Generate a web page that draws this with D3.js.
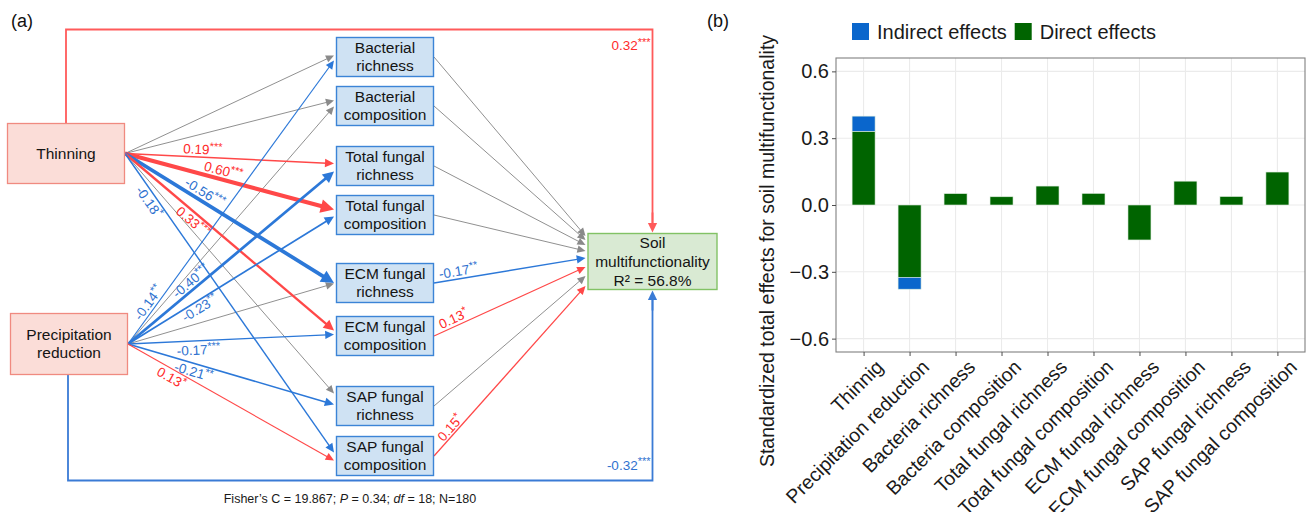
<!DOCTYPE html>
<html>
<head>
<meta charset="utf-8">
<script src="https://cdn.jsdelivr.net/npm/d3@7"></script>
<style>
  body { margin: 0; background: #fff; }
  svg { display: block; font-family: "Liberation Sans", Arial, Helvetica, sans-serif; }
</style>
</head>
<body>
<svg id="fig" width="1313" height="512"></svg>
<script>
// ---------- (a) piecewise SEM ----------
const driverNames = ["Thinning", "Precipitation\nreduction"];
const mediatorNames = [
  "Bacterial\nrichness", "Bacterial\ncomposition",
  "Total fungal\nrichness", "Total fungal\ncomposition",
  "ECM fungal\nrichness", "ECM fungal\ncomposition",
  "SAP fungal\nrichness", "SAP fungal\ncomposition"
];
const responseName = "Soil\nmultifunctionality";
const responseR2 = 56.8;
// standardized path coefficients (null = non-significant path)
const thinningToMediator = [null, null, 0.19, 0.60, -0.56, 0.33, null, -0.18];
const thinningSig        = ["", "", "***", "***", "***", "***", "", "*"];
const precipToMediator   = [-0.14, null, -0.40, -0.23, null, -0.17, -0.21, 0.13];
const precipSig          = ["**", "", "***", "**", "", "***", "**", "*"];
const mediatorToSoil     = [null, null, null, null, -0.17, 0.13, null, 0.15];
const mediatorSig        = ["", "", "", "", "**", "*", "", "*"];
const driverToSoil       = [0.32, -0.32];
const driverToSoilSig    = ["***", "***"];
const fisherC = 19.867, fisherP = 0.34, fisherDf = 18, sampleN = 180;

// ---------- (b) total effects ----------
const effectCategories = [
  "Thinnig", "Precipitation reduction", "Bacteria richness", "Bacteria composition",
  "Total fungal richness", "Total fungal composition", "ECM fungal richness",
  "ECM fungal composition", "SAP fungal richness", "SAP fungal composition"
];
const directEffects   = [0.331, -0.325, 0.051, 0.037, 0.085, 0.052, -0.157, 0.107, 0.038, 0.148];
const indirectEffects = [0.068, -0.053, 0, 0, 0, 0, 0, 0, 0, 0];
const effectTicks = [-0.6, -0.3, 0, 0.3, 0.6];
const legendLabels = ["Indirect effects", "Direct effects"];

// ---------- styling / layout ----------
const RED = "#ff4848", RED_TXT = "#ff2b2b";
const BLUE = "#2c78d8", BLUE_TXT = "#2f72cf";
const GRAY = "#8a8a8a";
const layout = {
  drivers: [{x: 7.5, y: 123.5, w: 117, h: 60}, {x: 10.5, y: 313.5, w: 117, h: 61}],
  medX: 336.5, medW: 97, medH: 39,
  medTop: [37.5, 86.5, 146.5, 195.5, 263.5, 316.5, 386.5, 436.5],
  soil: {x: 588, y: 233.5, w: 129, h: 56},
  thinDy:   [-1.5, -5.5, -2.5, -5.5, 0, -5.5, -12.5, -3.5],
  precipDy: [3.5, 0.5, 5.5, 1.5, 0.5, -1.5, -1.5, 4.5],
  soilInY:  [236, 240, 245, 251, 258, 267, 276, 286],
  thinLab:   [null, null, [0.37, 8], [0.46, 9], [0.36, 9], [0.35, -8], null, [0.146, -8]],
  precipLab: [[0.13, 8], null, [0.33, 8], [0.33, -7], null, [0.34, -9], [0.33, -8], [0.23, -8]],
  medLab:    [null, null, null, null, [0.17, 8], [0.15, 8], null, [0.14, 7]],
  loopTop: 29.5, loopBottom: 480.5
};

const svg = d3.select("#fig");
const widthScale = d3.scaleLinear().domain([0.13, 0.60]).range([1.1, 4]);

function arrow(g, x1, y1, x2, y2, color, sw) {
  const dx = x2 - x1, dy = y2 - y1, len = Math.hypot(dx, dy);
  const ux = dx / len, uy = dy / len;
  const hl = 6.5 + 1.7 * sw, hw = 2.8 + 1.0 * sw;
  g.append("line")
    .attr("x1", x1).attr("y1", y1)
    .attr("x2", x2 - ux * hl * 0.8).attr("y2", y2 - uy * hl * 0.8)
    .attr("stroke", color).attr("stroke-width", sw);
  const bx = x2 - ux * hl, by = y2 - uy * hl;
  g.append("polygon")
    .attr("points", [[x2, y2], [bx - uy * hw, by + ux * hw], [bx + uy * hw, by - ux * hw]].map(p => p.join(",")).join(" "))
    .attr("fill", color);
}

function coefLabel(g, x, y, angle, coef, sig, color, anchor) {
  const t = g.append("text")
    .attr("transform", `translate(${x},${y}) rotate(${angle})`)
    .attr("text-anchor", anchor || "middle")
    .attr("fill", color)
    .style("font-size", "13.5px");
  t.append("tspan").attr("dy", anchor ? 0 : "0.36em").text(coef.toFixed(2));
  t.append("tspan").attr("dy", "-0.4em").style("font-size", "11px").text(sig);
}

function labelOnEdge(g, x1, y1, x2, y2, place, coef, sig, color) {
  const dx = x2 - x1, dy = y2 - y1;
  const a = Math.atan2(dy, dx);
  const px = x1 + dx * place[0] + Math.sin(a) * place[1];
  const py = y1 + dy * place[0] - Math.cos(a) * place[1];
  coefLabel(g, px, py, a * 180 / Math.PI, coef, sig, color);
}

function boxText(g, cx, cy, text, size, lh) {
  const lines = text.split("\n");
  const t = g.append("text").attr("text-anchor", "middle").attr("fill", "#141414").style("font-size", size + "px");
  lines.forEach((s, i) => {
    t.append("tspan").attr("x", cx).attr("y", cy + (i - (lines.length - 1) / 2) * lh).attr("dy", "0.35em").text(s);
  });
  return t;
}

const gA = svg.append("g");
gA.append("text").attr("x", 11).attr("y", 27).style("font-size", "18px").attr("fill", "#111").text("(a)");

const edgesG = gA.append("g");
const labelsG = gA.append("g");
const nodesG = gA.append("g");

const drvOut = layout.drivers.map(d => [d.x + d.w + 0.5, d.y + d.h / 2]);
const medCY = layout.medTop.map(t => t + layout.medH / 2);
const tipX = layout.medX - 2.5;
const soilTipX = layout.soil.x - 2.5;

// build list of edges; non-significant ones drawn first (beneath)
const edges = [];
[[thinningToMediator, thinningSig, layout.thinDy, layout.thinLab, 0],
 [precipToMediator, precipSig, layout.precipDy, layout.precipLab, 1]].forEach(([coefs, sigs, dys, labs, di]) => {
  coefs.forEach((c, i) => {
    edges.push({x1: drvOut[di][0], y1: drvOut[di][1], x2: tipX, y2: medCY[i] + dys[i], coef: c, sig: sigs[i], lab: labs[i]});
  });
});
mediatorToSoil.forEach((c, i) => {
  edges.push({x1: layout.medX + layout.medW + 0.5, y1: medCY[i], x2: soilTipX, y2: layout.soilInY[i], coef: c, sig: mediatorSig[i], lab: layout.medLab[i]});
});
edges.sort((a, b) => (a.coef === null ? 0 : 1) - (b.coef === null ? 0 : 1));
edges.forEach(e => {
  if (e.coef === null) {
    arrow(edgesG, e.x1, e.y1, e.x2, e.y2, GRAY, 0.95);
  } else {
    const col = e.coef > 0 ? RED : BLUE;
    arrow(edgesG, e.x1, e.y1, e.x2, e.y2, col, widthScale(Math.abs(e.coef)));
    labelOnEdge(labelsG, e.x1, e.y1, e.x2, e.y2, e.lab, e.coef, e.sig, e.coef > 0 ? RED_TXT : BLUE_TXT);
  }
});

// direct driver -> soil multifunctionality paths routed around the diagram
const soilCX = layout.soil.x + layout.soil.w / 2;
const topD = layout.drivers[0], botD = layout.drivers[1];
function loop(g, x0, y0, yRoute, yEnd, color, sw) {
  const dir = Math.sign(yEnd - yRoute);
  const hl = 6.5 + 1.7 * sw;
  g.append("path")
    .attr("d", `M${x0},${y0} V${yRoute} H${soilCX} V${yEnd - dir * hl * 0.8}`)
    .attr("fill", "none").attr("stroke", color).attr("stroke-width", sw);
  arrow(g, soilCX, yEnd - dir * 20, soilCX, yEnd, color, sw);
}
loop(edgesG, 66, topD.y, layout.loopTop, layout.soil.y - 1, "#ff5a5a", 1.8);
loop(edgesG, 68, botD.y + botD.h, layout.loopBottom, layout.soil.y + layout.soil.h + 1, "#3a7bd5", 1.8);
coefLabel(labelsG, soilCX - 2, 50, 0, driverToSoil[0], driverToSoilSig[0], RED_TXT, "end");
coefLabel(labelsG, soilCX - 2, 469.5, 0, driverToSoil[1], driverToSoilSig[1], BLUE_TXT, "end");

// nodes
layout.drivers.forEach((d, i) => {
  nodesG.append("rect").attr("x", d.x).attr("y", d.y).attr("width", d.w).attr("height", d.h)
    .attr("fill", "#fbddd8").attr("stroke", "#f08a80").attr("stroke-width", 1.3);
  boxText(nodesG, d.x + d.w / 2, d.y + d.h / 2, driverNames[i], 15.5, 18);
});
mediatorNames.forEach((name, i) => {
  nodesG.append("rect").attr("x", layout.medX).attr("y", layout.medTop[i]).attr("width", layout.medW).attr("height", layout.medH)
    .attr("fill", "#cfe2f3").attr("stroke", "#3b84d6").attr("stroke-width", 1.4);
  boxText(nodesG, layout.medX + layout.medW / 2, medCY[i], name, 15.5, 18);
});
const s = layout.soil;
nodesG.append("rect").attr("x", s.x).attr("y", s.y).attr("width", s.w).attr("height", s.h)
  .attr("fill", "#d9ead3").attr("stroke", "#82c265").attr("stroke-width", 1.4);
boxText(nodesG, s.x + s.w / 2, s.y + s.h / 2, responseName + "\nR\u00B2 = " + responseR2.toFixed(1) + "%", 15.5, 19);

// fit statistics
const fit = gA.append("text").attr("x", 350).attr("y", 503).attr("text-anchor", "middle")
  .style("font-size", "12.5px").attr("fill", "#1a1a1a");
fit.append("tspan").text(`Fisher\u2019s C = ${fisherC}; `);
fit.append("tspan").style("font-style", "italic").text("P");
fit.append("tspan").text(` = ${fisherP}; `);
fit.append("tspan").style("font-style", "italic").text("df");
fit.append("tspan").text(` = ${fisherDf}; N=${sampleN}`);

// ---------- (b) stacked bars ----------
const gB = svg.append("g");
gB.append("text").attr("x", 707).attr("y", 27).style("font-size", "18px").attr("fill", "#111").text("(b)");

const panel = {l: 836, r: 1305, t: 58, b: 352};
const xS = d3.scalePoint().domain(effectCategories).range([panel.l, panel.r]).padding(0.6);
const yS = d3.scaleLinear().domain([-0.66, 0.66]).range([panel.b, panel.t]);
const barW = xS.step() * 0.5;
const COL_IND = "#0a66cc", COL_DIR = "#006400";

const grid = gB.append("g");
effectTicks.forEach(v => grid.append("line").attr("x1", panel.l).attr("x2", panel.r)
  .attr("y1", yS(v)).attr("y2", yS(v)).attr("stroke", "#ebebeb").attr("stroke-width", 1.1));
effectCategories.forEach(c => grid.append("line").attr("x1", xS(c)).attr("x2", xS(c))
  .attr("y1", panel.t).attr("y2", panel.b).attr("stroke", "#ebebeb").attr("stroke-width", 1.1));

const stacks = effectCategories.map((c, i) => ({
  c,
  segs: [
    {y0: 0, y1: directEffects[i], col: COL_DIR},
    {y0: directEffects[i], y1: directEffects[i] + indirectEffects[i], col: COL_IND}
  ]
}));
const barsG = gB.append("g");
stacks.forEach(st => st.segs.forEach(sg => {
  if (sg.y0 === sg.y1) return;
  barsG.append("rect")
    .attr("x", xS(st.c) - barW / 2).attr("width", barW)
    .attr("y", yS(Math.max(sg.y0, sg.y1))).attr("height", Math.abs(yS(sg.y0) - yS(sg.y1)))
    .attr("fill", sg.col).attr("stroke", "#dcecdc").attr("stroke-width", 0.6);
}));

gB.append("rect").attr("x", panel.l).attr("y", panel.t).attr("width", panel.r - panel.l).attr("height", panel.b - panel.t)
  .attr("fill", "none").attr("stroke", "#808080").attr("stroke-width", 1.1);

const yAxis = gB.append("g").attr("transform", `translate(${panel.l},0)`)
  .call(d3.axisLeft(yS).tickValues(effectTicks).tickFormat(d3.format(".1f")).tickSize(4).tickPadding(3));
yAxis.select(".domain").remove();
yAxis.selectAll(".tick line").attr("stroke", "#4d4d4d");
yAxis.selectAll(".tick text").style("font-size", "20px").attr("fill", "#1a1a1a")
  .style("font-family", "'Liberation Sans', Arial, sans-serif");

const xAxis = gB.append("g").attr("transform", `translate(0,${panel.b})`)
  .call(d3.axisBottom(xS).tickSize(4).tickPadding(2));
xAxis.select(".domain").remove();
xAxis.selectAll(".tick line").attr("stroke", "#4d4d4d");
xAxis.selectAll(".tick text")
  .style("font-size", "19.5px").attr("fill", "#1a1a1a")
  .style("font-family", "'Liberation Sans', Arial, sans-serif")
  .attr("text-anchor", "end")
  .attr("y", 0).attr("dy", "0.75em")
  .attr("transform", "translate(10,6) rotate(-45)");

gB.append("text")
  .attr("transform", "translate(774,251) rotate(-90)")
  .attr("text-anchor", "middle").style("font-size", "19.5px").attr("fill", "#1a1a1a")
  .text("Standardized total effects for soil multifunctionality");

// legend
const leg = gB.append("g");
let lx = 852;
[COL_IND, COL_DIR].forEach((col, i) => {
  leg.append("rect").attr("x", lx).attr("y", 23).attr("width", 17).attr("height", 17).attr("fill", col);
  const t = leg.append("text").attr("x", lx + 25).attr("y", 31.5).attr("dy", "0.35em")
    .style("font-size", "20px").attr("fill", "#1a1a1a").text(legendLabels[i]);
  lx += 25 + t.node().getComputedTextLength() + 8;
});
</script>
</body>
</html>
